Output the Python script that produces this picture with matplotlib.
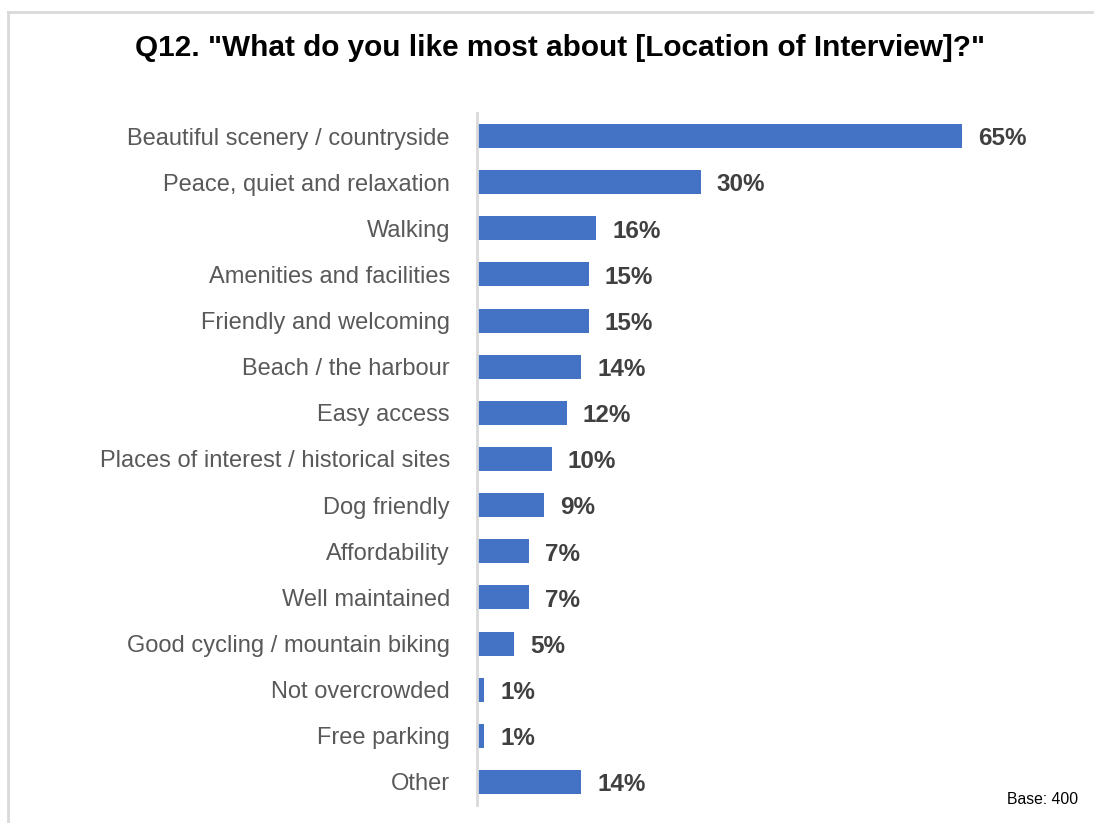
import matplotlib.pyplot as plt
from matplotlib.lines import Line2D

# ------------------------------------------------------------- dane
categories = [
    "Beautiful scenery / countryside",
    "Peace, quiet and relaxation",
    "Walking",
    "Amenities and facilities",
    "Friendly and welcoming",
    "Beach / the harbour",
    "Easy access",
    "Places of interest / historical sites",
    "Dog friendly",
    "Affordability",
    "Well maintained",
    "Good cycling / mountain biking",
    "Not overcrowded",
    "Free parking",
    "Other",
]
values = [65, 30, 16, 15, 15, 14, 12, 10, 9, 7, 7, 5, 1, 1, 14]

BAR_COLOR = "#4472C4"
W, H = 1094, 823

plt.rcParams["font.family"] = ["Liberation Sans", "DejaVu Sans"]

fig = plt.figure(figsize=(W / 100, H / 100), dpi=100)

# ramka (tylko góra i lewa widoczne)
fig.add_artist(Line2D([8 / W, 8 / W], [0, 1 - 12 / H], transform=fig.transFigure, color="#d9d9d9", lw=2))
fig.add_artist(Line2D([8 / W, 1], [1 - 12 / H, 1 - 12 / H], transform=fig.transFigure, color="#d9d9d9", lw=2))

# osie w pikselach
left, right, top, bottom = 477, 1040, 113, 805
ax = fig.add_axes([left / W, 1 - bottom / H, (right - left) / W, (bottom - top) / H])

px_per_pct = (962 - 477) / 65
ax.barh(range(len(categories)), values, height=0.52, color=BAR_COLOR)
ax.set_xlim(0, (right - left) / px_per_pct)
ax.set_ylim(len(categories) - 0.5, -0.5)

for i, v in enumerate(values):
    ax.text(v + 16 / px_per_pct, i + 0.06, f"{v}%", va="center", ha="left",
            fontsize=17.5, fontweight="bold", color="#404040")

ax.set_yticks(range(len(categories)))
ax.set_yticklabels(categories, fontsize=17, color="#595959")
ax.tick_params(axis="y", length=0, pad=19.5)
ax.set_xticks([])
for s in ["top", "right", "bottom"]:
    ax.spines[s].set_visible(False)
ax.spines["left"].set_color("#d9d9d9")
ax.spines["left"].set_linewidth(2)

fig.text(560 / W, 1 - 48 / H, 'Q12. "What do you like most about [Location of Interview]?"',
         ha="center", va="center", fontsize=21.4, fontweight="bold", color="black")
fig.text(1078 / W, 1 - 800 / H, "Base: 400", ha="right", va="center", fontsize=11.3, color="black")

fig.savefig("out.png", dpi=100)
